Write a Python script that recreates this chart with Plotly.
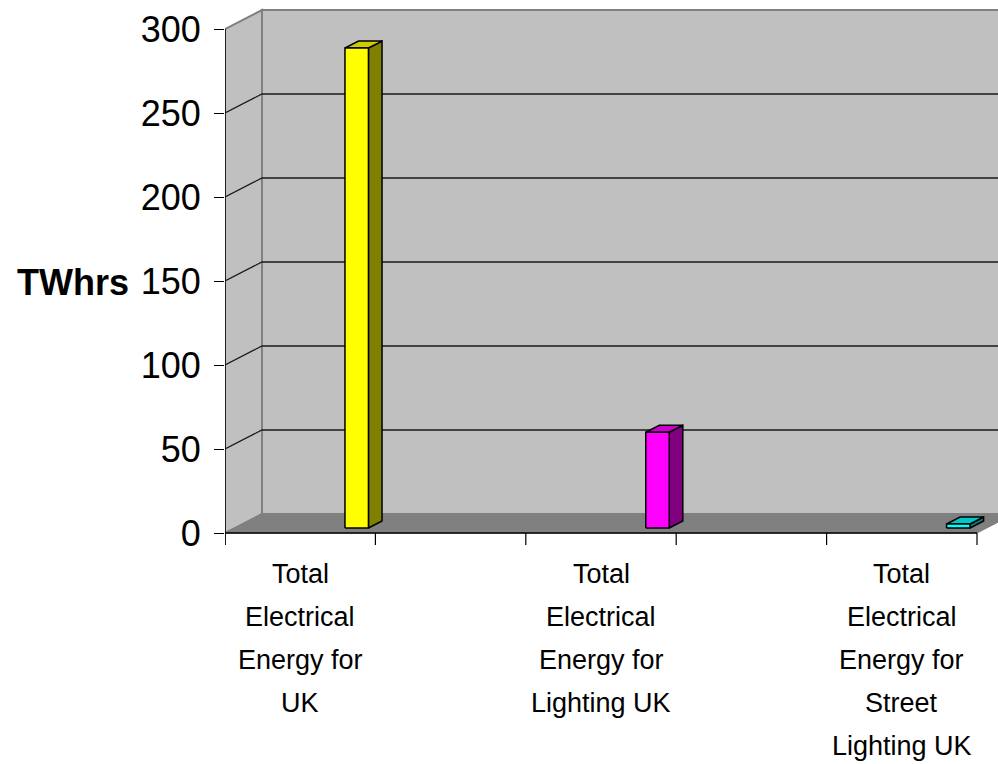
import plotly.graph_objects as go

# ---- data ----
categories = ["Total<br>Electrical<br>Energy for<br>UK",
              "Total<br>Electrical<br>Energy for<br>Lighting UK",
              "Total<br>Electrical<br>Energy for<br>Street<br>Lighting UK"]
cat_index = [0, 2, 4]          # slot positions on the 5-slot category axis
values = [285.7, 57.0, 2.4]     # TWhrs
y_ticks = [0, 50, 100, 150, 200, 250, 300]
y_title = "TWhrs"

front_colors = ["#FFFF00", "#FF00FF", "#00FFFF"]
side_colors = ["#808000", "#800080", "#008080"]
top_colors = ["#CCCC00", "#CC00CC", "#00C8C8"]

# ---- style / geometry ----
W, H = 998, 764
L, R, T, B = 225, 0, 5, 214
n_slots = 5
px_per_x = 150.4
px_per_y = 1.68
x_lo = -0.5
x_hi = x_lo + (W - L - R) / px_per_x
y_lo = -(550 - 533) / px_per_y
y_hi = y_lo + (H - T - B) / px_per_y
DX = 37 / px_per_x          # depth offset in x units
DY = 19 / px_per_y          # depth offset in y units
YMAX = 300
bar_off = 0.311
bar_hw = 0.078
f0, f1 = 0.263, 0.63
FONT = "Liberation Sans, Arial, sans-serif"
plot_h = H - T - B

def paper_y(px):
    return (H - B - px) / plot_h

fig = go.Figure()

def poly(xs, ys, fill, line="black", lw=1.5):
    fig.add_trace(go.Scatter(x=xs + [xs[0]], y=ys + [ys[0]], mode="lines",
                             fill="toself", fillcolor=fill,
                             line=dict(color=line, width=lw),
                             hoverinfo="skip", showlegend=False))

def seg(xs, ys, color, lw=1.2):
    fig.add_trace(go.Scatter(x=xs, y=ys, mode="lines",
                             line=dict(color=color, width=lw),
                             hoverinfo="skip", showlegend=False))

x_end = x_lo + n_slots
far = x_hi + 1
# back wall
poly([x_lo + DX, far, far, x_lo + DX], [DY, DY, YMAX + DY, YMAX + DY], "#C0C0C0", "#808080", 2)
# left wall
poly([x_lo, x_lo + DX, x_lo + DX, x_lo], [0, DY, YMAX + DY, YMAX], "#C0C0C0", "#808080", 2)
# floor
poly([x_lo, x_end, x_end + DX, x_lo + DX], [0, 0, DY, DY], "#808080", "#808080", 1)
# gridlines
for v in y_ticks[1:-1]:
    seg([x_lo, x_lo + DX, far], [v, v + DY, v + DY], "#1a1a1a", 1.3)
# floor front edge, axis line
seg([x_lo, x_end], [0, 0], "black", 1.5)
seg([x_lo, x_lo], [YMAX, -12 / px_per_y], "black", 1.5)
# category ticks
for k in range(n_slots + 1):
    seg([x_lo + k, x_lo + k], [0, -12 / px_per_y], "black", 1.2)

# bars
for ci, v, fc, sc, tc in zip(cat_index, values, front_colors, side_colors, top_colors):
    xl = ci + bar_off - bar_hw
    xr = ci + bar_off + bar_hw
    a0x, a0y = f0 * DX, f0 * DY
    a1x, a1y = f1 * DX, f1 * DY
    poly([xr + a0x, xr + a1x, xr + a1x, xr + a0x], [a0y, a1y, v + a1y, v + a0y], sc)
    poly([xl + a0x, xr + a0x, xr + a1x, xl + a1x], [v + a0y, v + a0y, v + a1y, v + a1y], tc)
    poly([xl + a0x, xr + a0x, xr + a0x, xl + a0x], [a0y, a0y, v + a0y, v + a0y], fc)

# category labels, one annotation per line to keep the wide line spacing
line_gap = 43
first_center = 574
for ci, lab in zip(cat_index, categories):
    for j, part in enumerate(lab.split("<br>")):
        fig.add_annotation(x=ci, xref="x", y=paper_y(first_center + j * line_gap),
                           yref="paper", yanchor="middle", xanchor="center",
                           text=part, showarrow=False,
                           font=dict(family=FONT, size=27, color="black"))

fig.add_annotation(x=(131 - L) / (W - L - R), xref="paper", y=paper_y(283), yref="paper",
                   xanchor="right", yanchor="middle", text="<b>" + y_title + "</b>",
                   showarrow=False, font=dict(family=FONT, size=36, color="black"))

fig.update_layout(
    width=W, height=H, margin=dict(l=L, r=R, t=T, b=B),
    paper_bgcolor="white", plot_bgcolor="white", showlegend=False,
    xaxis=dict(range=[x_lo, x_hi], visible=False, fixedrange=True),
    yaxis=dict(range=[y_lo, y_hi], tickvals=y_ticks, ticks="outside", ticklen=10,
               tickcolor="black", tickwidth=1.2, showgrid=False, zeroline=False,
               showline=False, ticklabelstandoff=6, fixedrange=True,
               tickfont=dict(family=FONT, size=36, color="black")),
)

fig.write_html("out.html", config={"displayModeBar": False},
               post_script="document.body.style.margin='0';document.body.style.overflow='hidden';")
